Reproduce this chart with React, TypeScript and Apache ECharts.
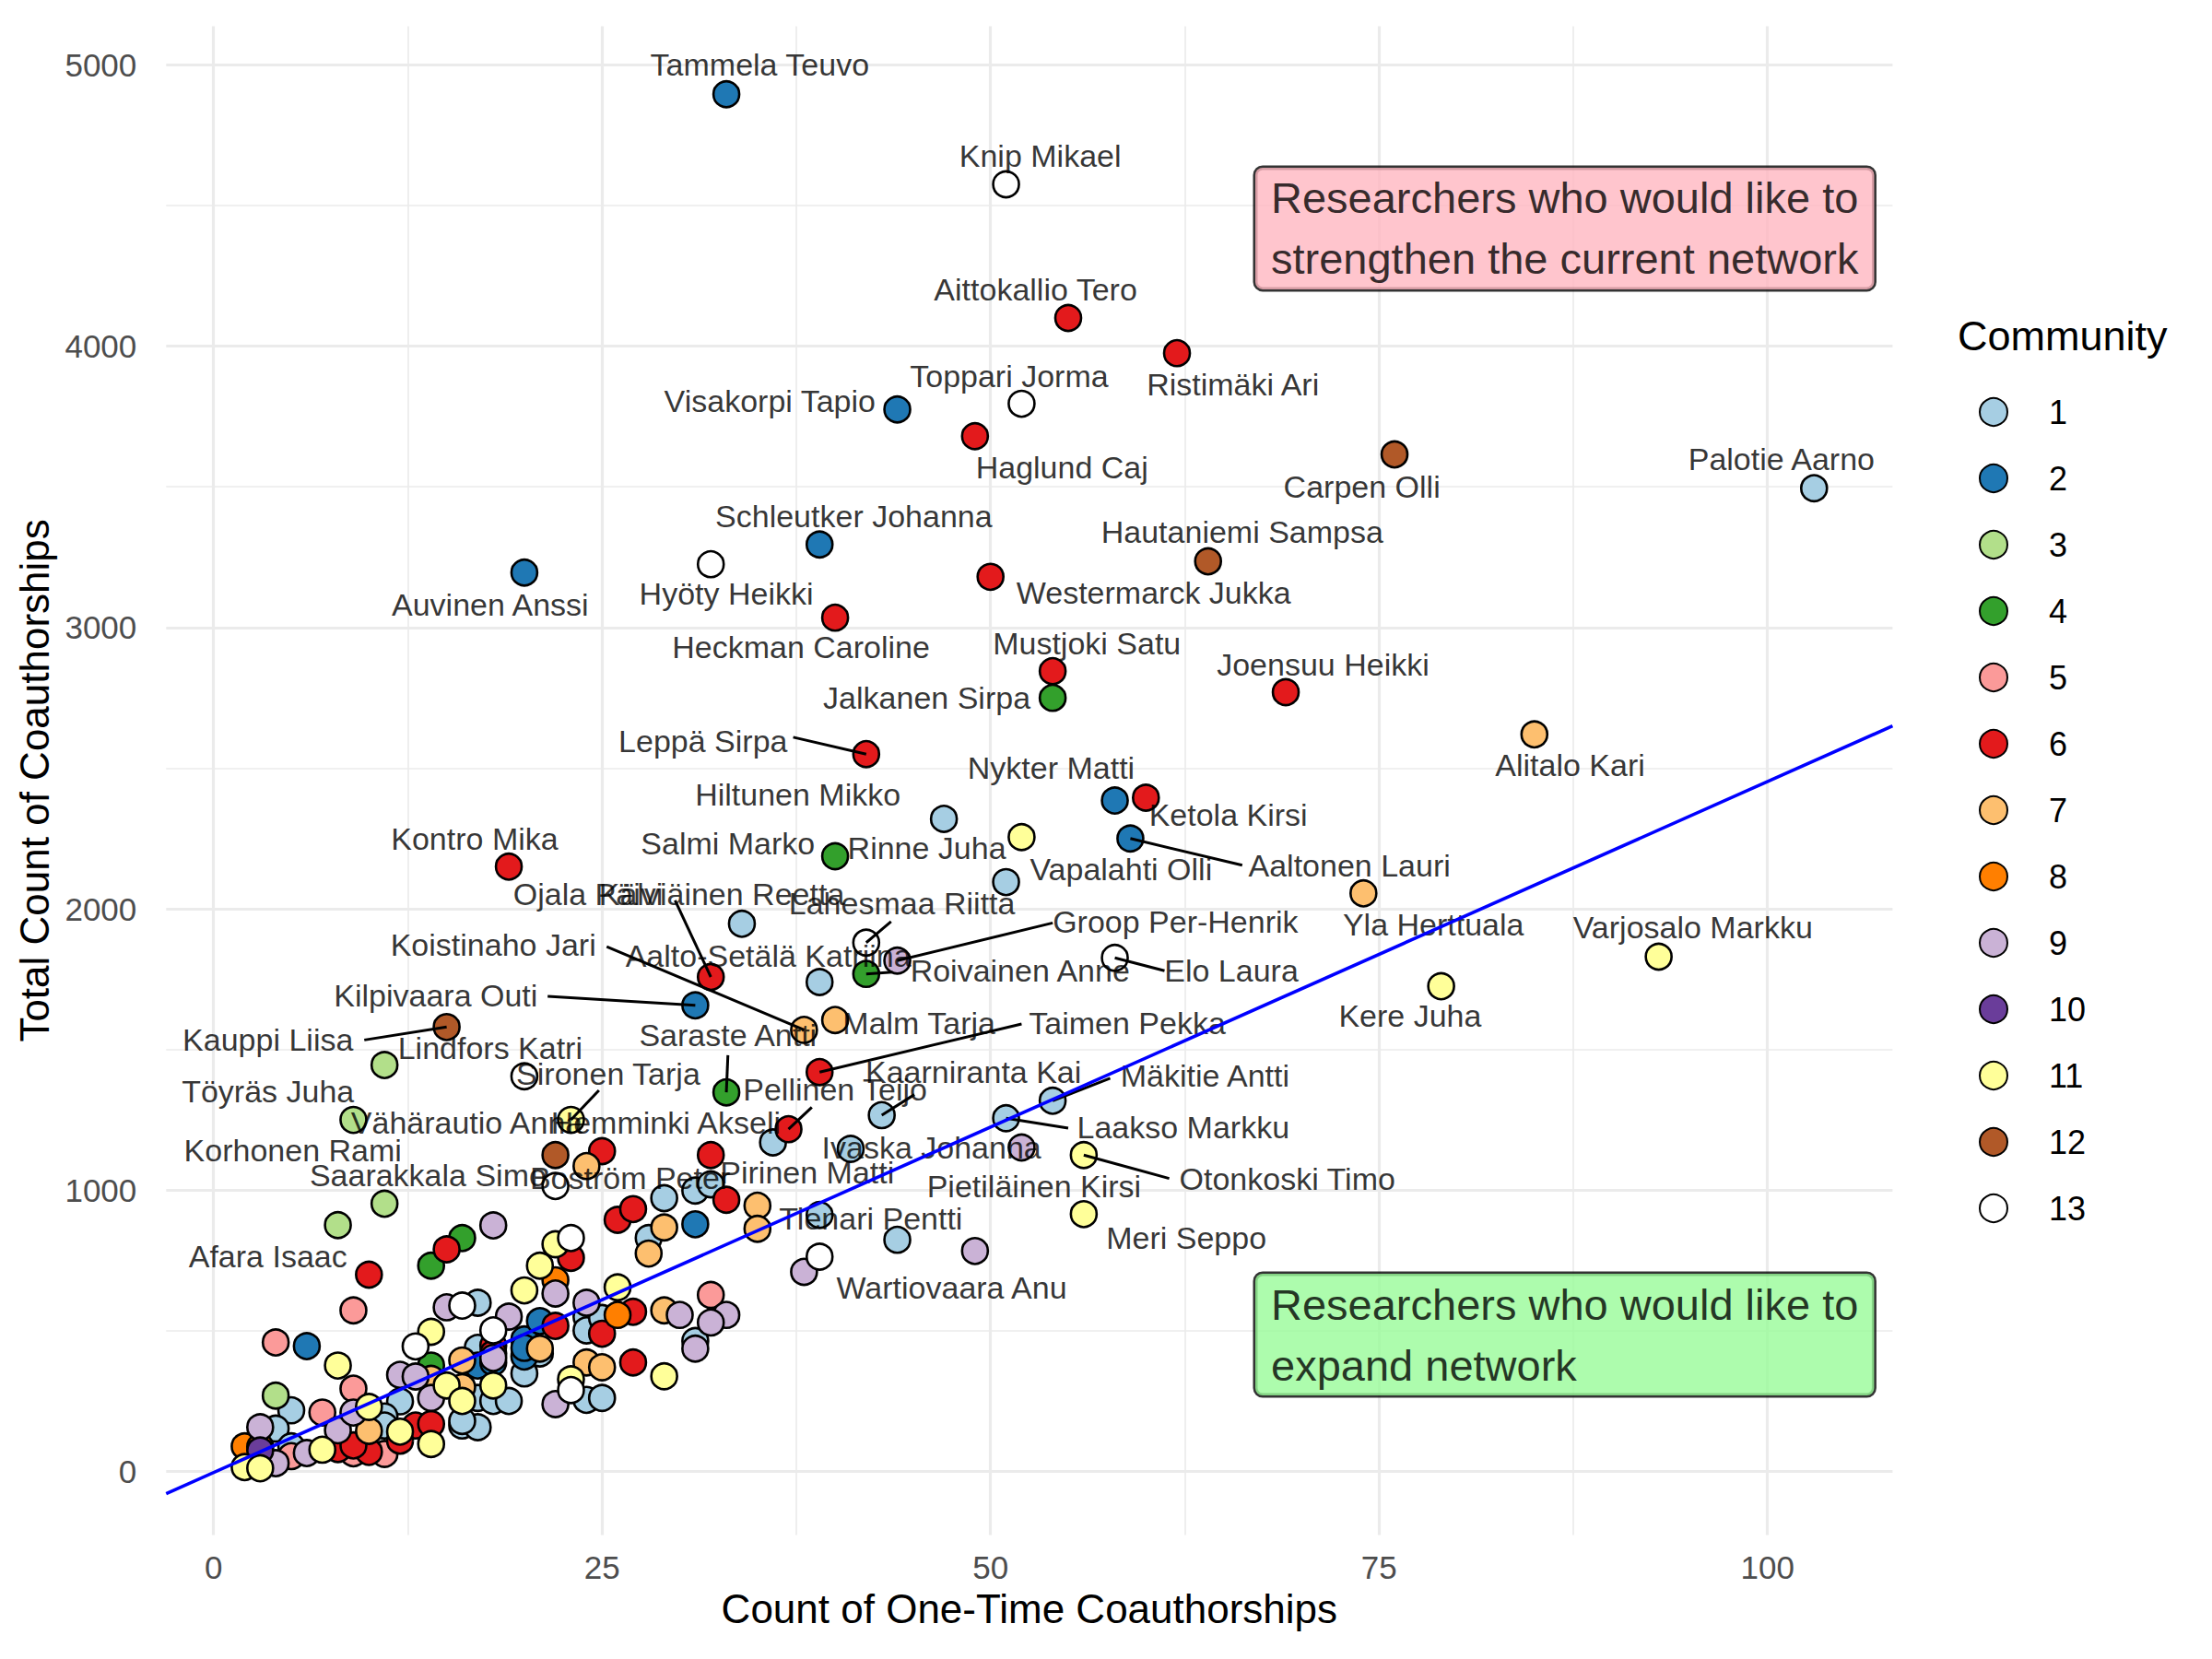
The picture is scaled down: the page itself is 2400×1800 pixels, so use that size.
import * as echarts from 'echarts';
import React, { useEffect, useRef } from 'react';

const FONT = "'Liberation Sans', Arial, Helvetica, sans-serif";

const communityNames = ['1', '2', '3', '4', '5', '6', '7', '8', '9', '10', '11', '12', '13'];
const communityColors = [
  '#A6CEE3', '#1F78B4', '#B2DF8A', '#33A02C', '#FB9A99', '#E31A1C', '#FDBF6F',
  '#FF7F00', '#CAB2D6', '#6A3D9A', '#FFFF99', '#B15928', '#FFFFFF',
];

// name, one-time coauthorships, total coauthorships, community
const labelledResearchers: [string, number, number, number][] = [
  ['Tammela Teuvo', 33, 4895, 2],
  ['Knip Mikael', 51, 4575, 13],
  ['Aittokallio Tero', 55, 4100, 6],
  ['Ristimäki Ari', 62, 3975, 6],
  ['Toppari Jorma', 52, 3795, 13],
  ['Visakorpi Tapio', 44, 3775, 2],
  ['Haglund Caj', 49, 3680, 6],
  ['Carpen Olli', 76, 3615, 12],
  ['Palotie Aarno', 103, 3495, 1],
  ['Schleutker Johanna', 39, 3295, 2],
  ['Hautaniemi Sampsa', 64, 3235, 12],
  ['Hyöty Heikki', 32, 3225, 13],
  ['Auvinen Anssi', 20, 3195, 2],
  ['Westermarck Jukka', 50, 3180, 6],
  ['Heckman Caroline', 40, 3035, 6],
  ['Mustjoki Satu', 54, 2845, 6],
  ['Joensuu Heikki', 69, 2770, 6],
  ['Jalkanen Sirpa', 54, 2750, 4],
  ['Alitalo Kari', 85, 2620, 7],
  ['Leppä Sirpa', 42, 2550, 6],
  ['Hiltunen Mikko', 47, 2320, 1],
  ['Nykter Matti', 58, 2385, 2],
  ['Ketola Kirsi', 60, 2395, 6],
  ['Rinne Juha', 52, 2255, 11],
  ['Salmi Marko', 40, 2187, 4],
  ['Aaltonen Lauri', 59, 2250, 2],
  ['Kontro Mika', 19, 2150, 6],
  ['Vapalahti Olli', 51, 2095, 1],
  ['Yla Herttuala', 74, 2055, 7],
  ['Varjosalo Markku', 93, 1830, 11],
  ['Kere Juha', 79, 1725, 11],
  ['Elo Laura', 58, 1826, 13],
  ['Groop Per-Henrik', 44, 1816, 9],
  ['Roivainen Anne', 42, 1769, 4],
  ['Lahesmaa Riitta', 42, 1880, 13],
  ['Ojala Päivi', 34, 1947, 1],
  ['Kälviäinen Reetta', 32, 1758, 6],
  ['Aalto-Setälä Katriina', 39, 1740, 1],
  ['Koistinaho Jari', 38, 1570, 7],
  ['Malm Tarja', 40, 1605, 7],
  ['Kilpivaara Outi', 31, 1657, 2],
  ['Kauppi Liisa', 15, 1580, 12],
  ['Lindfors Katri', 11, 1445, 3],
  ['Saraste Antti', 33, 1348, 4],
  ['Taimen Pekka', 39, 1420, 6],
  ['Töyräs Juha', 9, 1250, 3],
  ['Sironen Tarja', 23, 1250, 11],
  ['Vähärautio Anna', 20, 1405, 13],
  ['Hemminki Akseli', 36, 1170, 1],
  ['Pellinen Teijo', 37, 1217, 6],
  ['Kaarniranta Kai', 43, 1267, 1],
  ['Mäkitie Antti', 54, 1318, 1],
  ['Laakso Markku', 51, 1256, 1],
  ['Ivaska Johanna', 41, 1147, 1],
  ['Pietiläinen Kirsi', 52, 1152, 9],
  ['Otonkoski Timo', 56, 1125, 11],
  ['Meri Seppo', 56, 915, 11],
  ['Pirinen Matti', 32, 1021, 1],
  ['Boström Peter', 22, 1015, 13],
  ['Saarakkala Simo', 11, 952, 3],
  ['Korhonen Rami', 8, 876, 3],
  ['Tienari Pentti', 39, 912, 1],
  ['Wartiovaara Anu', 39, 764, 13],
  ['Afara Isaac', 10, 700, 6],
];

// unlabelled researchers, [one-time, total], per community
const community1 = [
  [29, 972], [31, 999], [44, 824], [28, 830], [12, 250], [17, 600], [16, 164], [17, 158],
  [17, 262], [18, 251], [19, 251], [20, 349], [24, 550], [24, 502], [24, 255], [25, 546],
  [25, 262], [31, 464], [5, 218], [4, 153], [5, 90], [11, 196], [16, 180], [17, 440],
  [11, 164], [21, 420],
];
const community2 = [[31, 879], [6, 446], [17, 377], [20, 470], [21, 535], [20, 409], [18, 388], [20, 440]];
const community3 = [[4, 270]];
const community4 = [[16, 830], [14, 732], [14, 377]];
const community5 = [[4, 459], [9, 573], [9, 295], [7, 210], [5, 55], [11, 63], [32, 628], [9, 65]];
const community6 = [
  [32, 1125], [25, 1139], [33, 966], [26, 895], [27, 933], [15, 790], [23, 760], [22, 518],
  [18, 448], [27, 568], [25, 490], [27, 388], [13, 164], [14, 169], [12, 110], [10, 70],
  [8, 80], [18, 420], [9, 93],
];
const community7 = [
  [24, 1086], [35, 945], [35, 863], [29, 868], [28, 775], [29, 573], [24, 388], [25, 371],
  [21, 437], [16, 395], [16, 300], [10, 145], [14, 330],
];
const community8 = [[2, 90], [3, 88], [22, 680], [26, 557]];
const community9 = [
  [49, 784], [38, 710], [18, 875], [3, 158], [4, 30], [6, 66], [8, 147], [9, 210], [12, 344],
  [13, 338], [14, 262], [15, 584], [18, 404], [19, 551], [22, 633], [22, 240], [24, 600],
  [30, 557], [33, 557], [32, 530], [31, 437],
];
const community10 = [[3, 75]];
const community11 = [
  [22, 808], [21, 732], [20, 644], [26, 655], [8, 377], [14, 497], [15, 306], [16, 251],
  [18, 306], [23, 328], [29, 339], [12, 142], [14, 98], [7, 78], [2, 16], [3, 12], [10, 230],
];
const community12 = [[22, 1125]];
const community13 = [[23, 830], [18, 502], [13, 445], [16, 590], [23, 290]];

const unlabelled = [
  community1, community2, community3, community4, community5, community6, community7,
  community8, community9, community10, community11, community12, community13,
];

// fitted line end points
const fitLine = [[-3.05, -78], [108.05, 2650]];

const xTicks = [0, 25, 50, 75, 100];
const xMinorTicks = [12.5, 37.5, 62.5, 87.5];
const yTicks = [0, 1000, 2000, 3000, 4000, 5000];
const yMinorTicks = [500, 1500, 2500, 3500, 4500];

const upperNote = 'Researchers who would like to\nstrengthen the current network';
const lowerNote = 'Researchers who would like to\nexpand network';

// label placement (data coordinates), as repelled in the original
const labelSpots: Record<string, [number, number]> = {
  'Tammela Teuvo': [35.15, 5000],
  'Knip Mikael': [53.2, 4675],
  'Aittokallio Tero': [52.9, 4200],
  'Ristimäki Ari': [65.6, 3865],
  'Toppari Jorma': [51.2, 3895],
  'Visakorpi Tapio': [35.8, 3805],
  'Haglund Caj': [54.6, 3570],
  'Carpen Olli': [73.9, 3500],
  'Palotie Aarno': [100.9, 3600],
  'Schleutker Johanna': [41.2, 3395],
  'Hautaniemi Sampsa': [66.2, 3340],
  'Hyöty Heikki': [33.0, 3120],
  'Auvinen Anssi': [17.8, 3080],
  'Westermarck Jukka': [60.5, 3125],
  'Heckman Caroline': [37.8, 2930],
  'Mustjoki Satu': [56.2, 2945],
  'Joensuu Heikki': [71.4, 2870],
  'Jalkanen Sirpa': [45.9, 2750],
  'Alitalo Kari': [87.3, 2510],
  'Leppä Sirpa': [31.5, 2595],
  'Hiltunen Mikko': [37.6, 2405],
  'Nykter Matti': [53.9, 2500],
  'Ketola Kirsi': [65.3, 2335],
  'Rinne Juha': [45.9, 2216],
  'Salmi Marko': [33.1, 2233],
  'Aaltonen Lauri': [73.1, 2155],
  'Kontro Mika': [16.8, 2249],
  'Vapalahti Olli': [58.4, 2140],
  'Yla Herttuala': [78.5, 1945],
  'Varjosalo Markku': [95.2, 1935],
  'Kere Juha': [77.0, 1621],
  'Elo Laura': [65.5, 1780],
  'Groop Per-Henrik': [61.9, 1954],
  'Roivainen Anne': [51.9, 1780],
  'Lahesmaa Riitta': [44.3, 2020],
  'Ojala Päivi': [24.1, 2052],
  'Kälviäinen Reetta': [32.7, 2052],
  'Aalto-Setälä Katriina': [35.7, 1834],
  'Koistinaho Jari': [18.0, 1872],
  'Malm Tarja': [45.4, 1594],
  'Kilpivaara Outi': [14.3, 1692],
  'Kauppi Liisa': [3.5, 1535],
  'Lindfors Katri': [17.8, 1507],
  'Saraste Antti': [33.1, 1551],
  'Taimen Pekka': [58.8, 1594],
  'Töyräs Juha': [3.5, 1351],
  'Sironen Tarja': [25.4, 1414],
  'Vähärautio Anna': [16.3, 1240],
  'Hemminki Akseli': [29.1, 1239],
  'Pellinen Teijo': [40.0, 1359],
  'Kaarniranta Kai': [48.9, 1420],
  'Mäkitie Antti': [63.8, 1406],
  'Laakso Markku': [62.4, 1223],
  'Ivaska Johanna': [46.2, 1152],
  'Pietiläinen Kirsi': [52.8, 1015],
  'Otonkoski Timo': [69.1, 1040],
  'Meri Seppo': [62.6, 830],
  'Pirinen Matti': [38.2, 1065],
  'Boström Peter': [26.8, 1043],
  'Saarakkala Simo': [13.8, 1053],
  'Korhonen Rami': [5.1, 1141],
  'Tienari Pentti': [42.3, 901],
  'Wartiovaara Anu': [47.5, 655],
  'Afara Isaac': [3.5, 764],
};

// where the leader segment meets the label
const leaderEnds: Record<string, [number, number]> = {
  'Leppä Sirpa': [37.3, 2610],
  'Aaltonen Lauri': [66.2, 2155],
  'Elo Laura': [61.2, 1780],
  'Groop Per-Henrik': [54.0, 1950],
  'Roivainen Anne': [43.7, 1775],
  'Lahesmaa Riitta': [43.6, 1955],
  'Kälviäinen Reetta': [29.7, 2030],
  'Koistinaho Jari': [25.3, 1866],
  'Kilpivaara Outi': [21.5, 1689],
  'Kauppi Liisa': [9.7, 1534],
  'Saraste Antti': [33.1, 1480],
  'Taimen Pekka': [52.0, 1591],
  'Sironen Tarja': [24.8, 1355],
  'Pellinen Teijo': [38.5, 1295],
  'Kaarniranta Kai': [45.1, 1340],
  'Mäkitie Antti': [57.7, 1398],
  'Laakso Markku': [55.0, 1221],
  'Otonkoski Timo': [61.5, 1042],
};

const App: React.FC = () => {
  const chartRef = useRef<HTMLDivElement>(null);

  useEffect(() => {
    if (!chartRef.current) return;
    const chart = echarts.init(chartRef.current, undefined, { renderer: 'svg' });

    const pointSeries = communityNames.map((name, i) => ({
      name,
      type: 'scatter',
      xAxisIndex: 0,
      yAxisIndex: 0,
      symbol: 'circle',
      symbolSize: 28,
      z: 2,
      itemStyle: {
        color: communityColors[i],
        borderColor: '#000',
        borderWidth: 2.6,
        opacity: 1,
      },
      emphasis: { disabled: true },
      data: [
        ...unlabelled[i],
        ...labelledResearchers.filter((r) => r[3] === i + 1).map((r) => [r[1], r[2]]),
      ],
    }));

    const leaders = labelledResearchers
      .filter((r) => leaderEnds[r[0]])
      .map((r) => ({ coords: [[r[1], r[2]], leaderEnds[r[0]]] }));

    const noteLabel = (bg: string) => ({
      show: true,
      position: 'inside',
      align: 'left',
      verticalAlign: 'middle',
      color: '#000',
      fontSize: 47,
      fontFamily: FONT,
      lineHeight: 66,
      backgroundColor: bg,
      borderColor: '#000',
      borderWidth: 2.5,
      borderRadius: 8,
      padding: [0, 17, 0, 17],
    });

    const plain = (v: number) => String(v);

    const option: any = {
      animation: false,
      backgroundColor: '#fff',
      textStyle: { fontFamily: FONT },
      grid: { left: 180.3, right: 346.6, top: 28.4, bottom: 134.6, containLabel: false },
      xAxis: [
        {
          type: 'value',
          min: -3.05,
          max: 108.05,
          name: 'Count of One-Time Coauthorships',
          nameLocation: 'middle',
          nameGap: 58,
          nameTextStyle: { fontSize: 44, color: '#000', fontFamily: FONT },
          axisLine: { show: false },
          axisTick: { show: false, customValues: xTicks },
          axisLabel: {
            customValues: xTicks,
            formatter: plain,
            fontSize: 35,
            color: '#4D4D4D',
            margin: 18,
            fontFamily: FONT,
          },
          splitLine: { show: true, lineStyle: { color: '#EBEBEB', width: 3.2 } },
        },
        {
          type: 'value',
          min: -3.05,
          max: 108.05,
          position: 'top',
          axisLine: { show: false },
          axisTick: { show: false, customValues: xMinorTicks },
          axisLabel: { show: false, customValues: xMinorTicks },
          splitLine: { show: true, lineStyle: { color: '#EBEBEB', width: 1.7 } },
        },
      ],
      yAxis: [
        {
          type: 'value',
          min: -225,
          max: 5137,
          name: 'Total Count of Coauthorships',
          nameLocation: 'middle',
          nameGap: 113,
          nameTextStyle: { fontSize: 44, color: '#000', fontFamily: FONT },
          axisLine: { show: false },
          axisTick: { show: false, customValues: yTicks },
          axisLabel: {
            customValues: yTicks,
            formatter: plain,
            fontSize: 35,
            color: '#4D4D4D',
            margin: 32,
            fontFamily: FONT,
          },
          splitLine: { show: true, lineStyle: { color: '#EBEBEB', width: 3.2 } },
        },
        {
          type: 'value',
          min: -225,
          max: 5137,
          position: 'right',
          axisLine: { show: false },
          axisTick: { show: false, customValues: yMinorTicks },
          axisLabel: { show: false, customValues: yMinorTicks },
          splitLine: { show: true, lineStyle: { color: '#EBEBEB', width: 1.7 } },
        },
      ],
      legend: {
        data: communityNames,
        orient: 'vertical',
        left: 2142,
        top: 424,
        icon: 'circle',
        itemWidth: 30,
        itemHeight: 30,
        itemGap: 36,
        selectedMode: false,
        textStyle: { fontSize: 36, color: '#000', fontFamily: FONT, padding: [0, 0, 0, 40] },
      },
      graphic: [
        {
          type: 'text',
          left: 2124,
          top: 342,
          style: { text: 'Community', fontSize: 45, fill: '#000', fontFamily: FONT },
        },
      ],
      series: [
        ...pointSeries,
        {
          name: 'leaders',
          type: 'lines',
          coordinateSystem: 'cartesian2d',
          xAxisIndex: 0,
          yAxisIndex: 0,
          z: 3,
          silent: true,
          lineStyle: { color: '#000', width: 3, opacity: 1, curveness: 0 },
          data: leaders,
        },
        {
          name: 'names',
          type: 'scatter',
          xAxisIndex: 0,
          yAxisIndex: 0,
          z: 4,
          symbolSize: 1,
          silent: true,
          itemStyle: { color: 'transparent' },
          label: {
            show: true,
            position: 'inside',
            formatter: '{b}',
            color: '#000',
            fontSize: 34,
            fontFamily: FONT,
          },
          data: labelledResearchers.map((r) => ({ name: r[0], value: labelSpots[r[0]] })),
        },
        {
          name: 'fit',
          type: 'line',
          xAxisIndex: 0,
          yAxisIndex: 0,
          z: 5,
          showSymbol: false,
          silent: true,
          lineStyle: { color: '#0000FF', width: 3.6 },
          data: fitLine,
        },
        {
          name: 'notes',
          type: 'scatter',
          xAxisIndex: 0,
          yAxisIndex: 0,
          z: 6,
          symbolSize: 1,
          silent: true,
          itemStyle: { color: 'transparent' },
          data: [
            { value: [67.04, 4418], label: { ...noteLabel('#FFB6C1'), formatter: upperNote } },
            { value: [67.04, 487], label: { ...noteLabel('#98FB98'), formatter: lowerNote } },
          ],
        },
      ],
    };

    chart.setOption(option);
    return () => {
      chart.dispose();
    };
  }, []);

  return (
    <div
      ref={chartRef}
      style={{ position: 'absolute', left: 0, top: 0, width: '2400px', height: '1800px' }}
    />
  );
};

export default App;
